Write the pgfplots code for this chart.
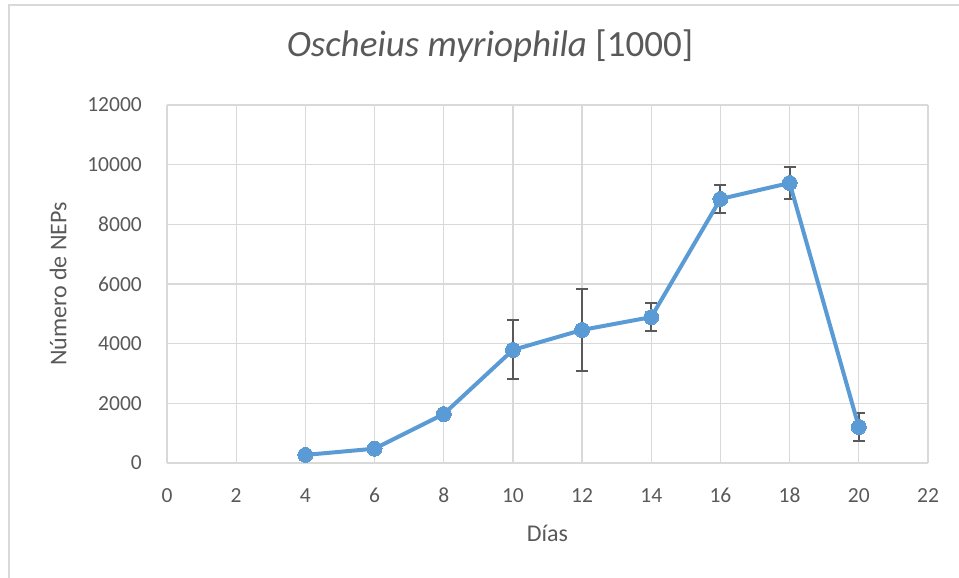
\documentclass[border=0pt]{standalone}
\usepackage{pgfplots}
\pgfplotsset{compat=1.18}
\usepackage{fontspec}
\setmainfont{Carlito}
\definecolor{linecol}{HTML}{5B9BD5}
\definecolor{txt}{HTML}{595959}
\definecolor{gridc}{HTML}{D9D9D9}
\begin{document}
\begin{tikzpicture}[x=1pt,y=1pt]
\useasboundingbox (0,0) rectangle (959,578);
\draw[gridc, line width=1.5pt] (9,0) -- (9,573) -- (959,573);
\begin{axis}[
  at={(167pt,115pt)}, anchor=south west,
  scale only axis, width=761pt, height=358pt,
  xmin=0, xmax=22, ymin=0, ymax=12000,
  xtick={0,2,...,22}, ytick={0,2000,...,12000},
  grid=major, major grid style={gridc, line width=1.3pt},
  axis line style={draw=none},
  major tick length=0pt,
  scaled y ticks=false,
  /pgf/number format/assume math mode=true,
  /pgf/number format/1000 sep={},
  ticklabel style={font=\fontsize{21.5}{25}\selectfont, text=txt, inner sep=0pt},
  xticklabel style={anchor=base, yshift=-40pt},
  yticklabel style={anchor=east, xshift=-25pt},
  xlabel={Días},
  ylabel={Número de NEPs},
  label style={font=\fontsize{24}{28}\selectfont, text=txt},
  xlabel style={at={(axis description cs:0.5,-0.1955)}, anchor=center},
  ylabel style={at={(axis description cs:-0.143,0.5)}, anchor=center, rotate=0},
  title={\textit{Oscheius myriophila} [1000]},
  title style={font=\fontsize{37}{41}\selectfont, text=txt, at={(axis description cs:0.4244,1.12)}, anchor=base},
]
\addplot[draw=none, mark=none, forget plot,
  error bars/.cd, y dir=both, y explicit,
  error bar style={line width=2pt, color=txt},
  error mark options={rotate=90, mark size=6pt, line width=2pt, color=txt}]
  table[x=x, y=y, y error=e] {
x y e
10 3790 990
12 4460 1360
14 4890 470
16 8850 470
18 9386 540
20 1207 480
};
\addplot[color=linecol, line width=4pt, mark=*, mark size=7.5pt, mark options={fill=linecol, draw=linecol, line width=0pt}]
  table[x=x, y=y] {
x y
4 270
6 480
8 1640
10 3790
12 4460
14 4890
16 8850
18 9386
20 1207
};
\end{axis}
\end{tikzpicture}
\end{document}
